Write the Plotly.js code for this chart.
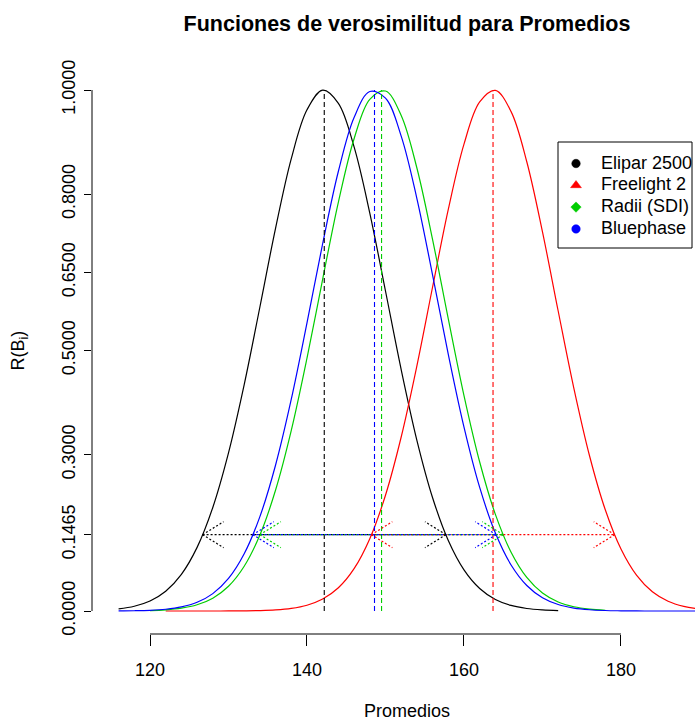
<!DOCTYPE html>
<html>
<head>
<meta charset="utf-8">
<script src="https://cdn.plot.ly/plotly-3.0.1.min.js"></script>
<style>html,body{margin:0;padding:0;background:#fff;}#chart{width:695px;height:720px;}</style>
</head>
<body>
<div id="chart"></div>
<script>
// ---- data ----
const groups = ["Elipar 2500", "Freelight 2", "Radii (SDI)", "Bluephase"];
const colors = ["#000000", "#FF0000", "#00CD00", "#0000FF"];
const symbols = ["circle", "triangle-up", "diamond", "circle"];
const xGrid = [116,118,120,122,124,126,128,130,132,134,136,138,140,142,144,146,148,150,152,154,156,158,160,162,164,166,168,170,172,174,176,178,180,182,184,186,188,190];
const rElipar = [0.00409,0.00917,0.01929,0.03805,0.0704,0.12214,0.1988,0.30349,0.43452,0.5835,0.73491,0.86823,0.96196,0.99968,0.97437,0.89075,0.7638,0.61421,0.46331,0.32773,0.21746,0.13534,0.07899,0.04325,0.02221,0.01069,0.00483,0.00205,0.00081,null,null,null,null,null,null,null,null,null];
const rFreelight = [null,null,null,0,0,0.00001,0.00004,0.00011,0.00032,0.00085,0.00214,0.00503,0.01111,0.02299,0.04463,0.08127,0.1388,0.2223,0.33398,0.47057,0.62189,0.77083,0.89612,0.97712,0.99928,0.95851,0.86233,0.7276,0.57583,0.42741,0.29756,0.19435,0.11901,0.06834,0.03683,0.01862,0.00882,0.00392];
const rRadii = [null,null,0.00094,0.00234,0.00546,0.01198,0.02464,0.04753,0.086,0.1459,0.2322,0.34663,0.48527,0.6372,0.78479,0.90652,0.98214,0.998,0.95116,0.85027,0.71287,0.56056,0.41342,0.28599,0.18553,0.11289,0.06445,0.0345,0.01732,0.00816,0.0036,0.00149,null,null,null,null,null,null];
const rBluephase = [0.0002,0.00055,0.00143,0.00345,0.00784,0.0167,0.03339,0.06256,0.10993,0.18126,0.2803,0.40649,0.55293,0.70538,0.84408,0.94728,0.99712,0.98442,0.91155,0.79169,0.64488,0.49265,0.35303,0.23727,0.14957,0.08842,0.04904,0.02551,0.01245,0.00569,0.00244,0.00098,0.0004,0.0001,0,0,0,0];
const mle = [142.2, 163.7, 149.5, 148.6];
const lower = [126.7, 148.2, 134.0, 133.1];
const upper = [157.7, 179.2, 165.0, 164.1];
const level = 0.1465;
const yTicks = [0, 0.1465, 0.3, 0.5, 0.65, 0.8, 1];
const yTickText = ["0.0000", "0.1465", "0.3000", "0.5000", "0.6500", "0.8000", "1.0000"];
const xTicks = [120, 140, 160, 180];

const series = [rElipar, rFreelight, rRadii, rBluephase];
const FONT = "Liberation Sans, Arial, Helvetica, sans-serif";

const traces = [];
series.forEach((r, i) => {
  traces.push({x: xGrid, y: r, type: "scatter", mode: "lines", showlegend: false,
    line: {color: colors[i], width: 1.2, shape: "spline"}, hoverinfo: "skip"});
});
// vertical dashed lines at the MLEs (drawn as traces, from 0 to the maximum 1)
mle.forEach((m, i) => {
  traces.push({x: [m, m], y: [0, 1], type: "scatter", mode: "lines", showlegend: false,
    line: {color: colors[i], width: 1.1, dash: "5px,3px"}, hoverinfo: "skip"});
});
// interval lines (dotted)
groups.forEach((g, i) => {
  traces.push({x: [lower[i], upper[i]], y: [level, level], type: "scatter", mode: "lines",
    showlegend: false, line: {color: colors[i], width: 1.2, dash: "2px,2px"}, hoverinfo: "skip"});
});

// ---- legend drawn in a pixel-space overlay (R style box legend) ----
const LEG = {left: 558, right: 692, top: 142, bottom: 248, symX: 576, textX: 600, row0: 163.5, step: 21.8};
traces.push({
  x: groups.map(() => LEG.symX), y: groups.map((g, i) => LEG.row0 + i * LEG.step),
  xaxis: "x2", yaxis: "y2", type: "scatter", mode: "markers", showlegend: false, cliponaxis: false,
  opacity: 1,
  marker: {color: colors, symbol: symbols, size: [8.5, 9.5, 8, 8.5], opacity: 1,
    line: {width: 0.5, color: colors}}, hoverinfo: "skip"
});

const shapes = [];
// arrow heads (dotted), both ends
groups.forEach((g, i) => {
  [[lower[i], 1], [upper[i], -1]].forEach(([xa, dir]) => {
    [1, -1].forEach(s => {
      shapes.push({type: "line", xref: "x", yref: "y", xsizemode: "pixel", ysizemode: "pixel",
        xanchor: xa, yanchor: level, x0: 0, y0: 0, x1: 21 * dir, y1: 13 * s,
        line: {color: colors[i], width: 1.2, dash: "2px,2px"}});
    });
  });
});
// axis lines spanning only the tick range (R style)
shapes.push({type: "line", xref: "paper", yref: "y", x0: 0, x1: 0, y0: 0, y1: 1, line: {color: "#000", width: 1}});
shapes.push({type: "line", xref: "x", yref: "paper", x0: xTicks[0], x1: xTicks[xTicks.length - 1], y0: 0, y1: 0, line: {color: "#000", width: 1}});
// legend box
shapes.push({type: "rect", xref: "x2", yref: "y2", x0: LEG.left, x1: LEG.right, y0: LEG.top, y1: LEG.bottom,
  line: {color: "#000", width: 1}, fillcolor: "#fff", layer: "below"});

const annotations = [
  {text: "Promedios", xref: "paper", x: 0.5224, yref: "paper", y: -0.136, xanchor: "center",
    yanchor: "middle", showarrow: false, font: {family: FONT, size: 18, color: "#000"}},
  {text: "R(B<sub>i</sub>)", xref: "paper", x: -0.1194, yref: "y", y: 0.5, xanchor: "center",
    yanchor: "middle", textangle: -90, showarrow: false, font: {family: FONT, size: 18, color: "#000"}}
];
groups.forEach((g, i) => {
  annotations.push({text: g, xref: "x2", yref: "y2", x: LEG.textX, y: LEG.row0 - 1 + i * LEG.step,
    xanchor: "left", yanchor: "middle", showarrow: false, borderpad: 0,
    font: {family: FONT, size: 18, color: "#000"}});
});

const layout = {
  width: 695, height: 720,
  margin: {l: 92, r: 0, t: 69, b: 86, pad: 0},
  paper_bgcolor: "#fff", plot_bgcolor: "#fff",
  font: {family: FONT, size: 18, color: "#000"},
  title: {text: "<b>Funciones de verosimilitud para Promedios</b>", xref: "container", x: 0.5856,
    xanchor: "center", yref: "container", y: 0.967, yanchor: "middle",
    font: {family: FONT, size: 21.5, color: "#000"}},
  xaxis: {range: [112.611, 189.43], tickvals: xTicks, ticktext: xTicks.map(String),
    ticks: "outside", ticklen: 11, tickwidth: 1, tickcolor: "#000", showline: false,
    showgrid: false, zeroline: false, ticklabelstandoff: 8,
    tickfont: {family: FONT, size: 18, color: "#000"}},
  yaxis: {range: [-0.0441, 1.0403], tickvals: yTicks, ticktext: yTickText, tickangle: -90,
    ticks: "outside", ticklen: 7, tickwidth: 1, tickcolor: "#000", showline: false,
    showgrid: false, zeroline: false, ticklabelstandoff: 2,
    tickfont: {family: FONT, size: 18, color: "#000"}},
  xaxis2: {overlaying: "x", anchor: "y2", range: [92, 695], visible: false, fixedrange: true},
  yaxis2: {overlaying: "y", anchor: "x2", range: [634, 69], visible: false, fixedrange: true},
  showlegend: false,
  shapes: shapes,
  annotations: annotations
};

Plotly.newPlot("chart", traces, layout, {displayModeBar: false, staticPlot: true});
</script>
</body>
</html>
